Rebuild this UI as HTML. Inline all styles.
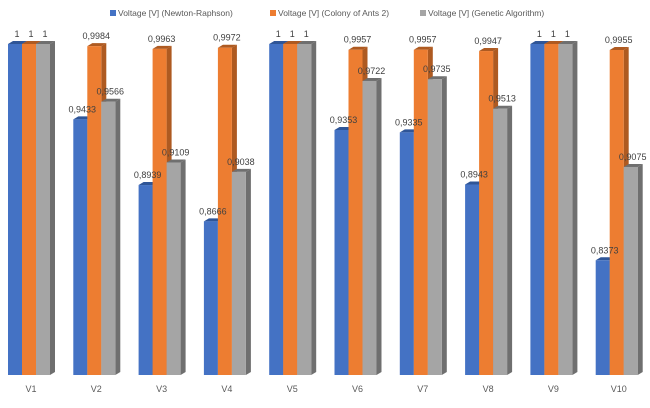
<!DOCTYPE html>
<html><head><meta charset="utf-8">
<style>
body{margin:0;background:#fff;font-family:"Liberation Sans",sans-serif}
svg{display:block}
text{font-family:"Liberation Sans",sans-serif}
</style></head>
<body>
<svg id="chart" width="650" height="408" viewBox="0 0 650 408">
<g id="legend"></g>
<g id="bars"></g>
<g id="labels"></g>
</svg>
<script>
const categories=["V1","V2","V3","V4","V5","V6","V7","V8","V9","V10"];
const seriesNames=["Voltage [V] (Newton-Raphson)","Voltage [V] (Colony of Ants 2)","Voltage [V] (Genetic Algorithm)"];
const newtonRaphson=[1,0.9433,0.8939,0.8666,1,0.9353,0.9335,0.8943,1,0.8373];
const colonyOfAnts=[1,0.9984,0.9963,0.9972,1,0.9957,0.9957,0.9947,1,0.9955];
const geneticAlgorithm=[1,0.9566,0.9109,0.9038,1,0.9722,0.9735,0.9513,1,0.9075];
const valueLabels=[
["1","0,9433","0,8939","0,8666","1","0,9353","0,9335","0,8943","1","0,8373"],
["1","0,9984","0,9963","0,9972","1","0,9957","0,9957","0,9947","1","0,9955"],
["1","0,9566","0,9109","0,9038","1","0,9722","0,9735","0,9513","1","0,9075"]];
const series=[newtonRaphson,colonyOfAnts,geneticAlgorithm];
const colors=["#4472c4","#ed7d31","#a5a5a5"];
const sideColors=["#2f5597","#ae5a21","#6f6f6f"];
const NS="http://www.w3.org/2000/svg";
const yMin=0.751,yMax=1,yTop=44,yBot=375;
function y(v){return yBot-(v-yMin)/(yMax-yMin)*(yBot-yTop);}
function xGroup(i){return 8+i*65.3;}
const bw=14,d=5;
const bars=document.getElementById('bars'),labels=document.getElementById('labels'),legend=document.getElementById('legend');
categories.forEach((c,i)=>{
  series.forEach((s,k)=>{
    const x=xGroup(i)+k*bw, t=y(s[i]);
    const side=document.createElementNS(NS,'polygon');
    side.setAttribute('points',`${x+bw},${t} ${x+bw+d},${t-3} ${x+bw+d},${yBot-3} ${x+bw},${yBot}`);
    side.setAttribute('fill',sideColors[k]);
    
    
    bars.appendChild(side);
    const top=document.createElementNS(NS,'polygon');
    top.setAttribute('points',`${x},${t} ${x+d},${t-3} ${x+bw+d},${t-3} ${x+bw},${t}`);
    top.setAttribute('fill',sideColors[k]);
    
    
    bars.appendChild(top);
    const r=document.createElementNS(NS,'rect');
    r.setAttribute('x',x);r.setAttribute('y',t);r.setAttribute('width',bw);r.setAttribute('height',yBot-t);
    r.setAttribute('fill',colors[k]);
    
    
    bars.appendChild(r);
    const lb=document.createElementNS(NS,'text');
    lb.setAttribute('x',x+bw/2+2);lb.setAttribute('y',t-7);
    lb.setAttribute('text-anchor','middle');lb.setAttribute('font-size','9');lb.setAttribute('fill','#404040');
    lb.textContent=valueLabels[k][i];
    
    
    labels.appendChild(lb);
  });
  const cl=document.createElementNS(NS,'text');
  cl.setAttribute('x',xGroup(i)+23);cl.setAttribute('y',392);
  cl.setAttribute('text-anchor','middle');cl.setAttribute('font-size','9');cl.setAttribute('fill','#595959');
  cl.textContent=c;
  
  
  labels.appendChild(cl);
});
const legX=[110,270,420];
seriesNames.forEach((n,k)=>{
  const r=document.createElementNS(NS,'rect');
  r.setAttribute('x',legX[k]);r.setAttribute('y',10);r.setAttribute('width',6);r.setAttribute('height',6);
  r.setAttribute('fill',colors[k]);
  
  
  legend.appendChild(r);
  const t=document.createElementNS(NS,'text');
  t.setAttribute('x',legX[k]+8);t.setAttribute('y',16);t.setAttribute('font-size','8.5');t.setAttribute('fill','#595959');
  t.textContent=n;
  
  
  legend.appendChild(t);
});
</script>
</body></html>
